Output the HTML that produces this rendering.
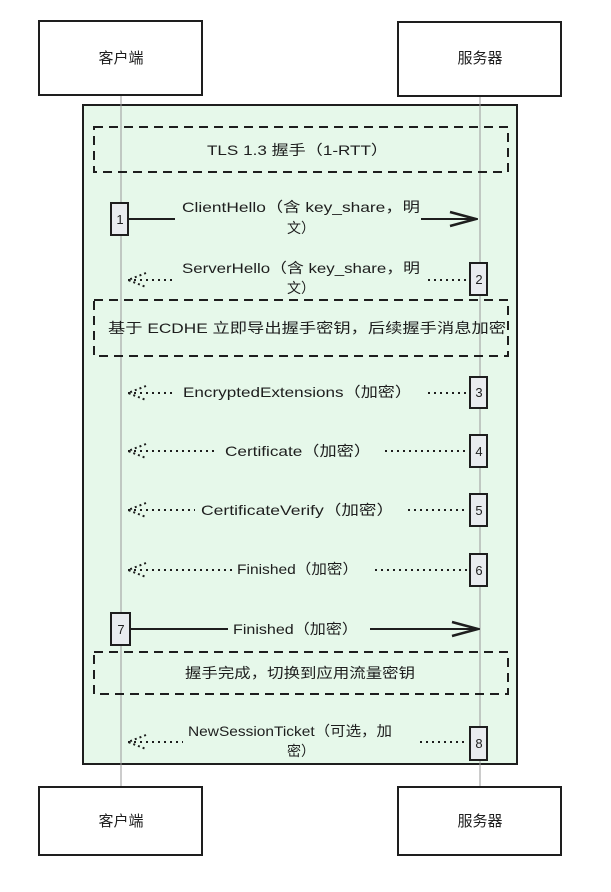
<!DOCTYPE html>
<html><head><meta charset="utf-8"><style>
body{margin:0;background:#fff}
svg text{font-family:"Liberation Sans","Noto Sans CJK SC",sans-serif;fill:#1e1e1e}
</style></head><body>
<svg width="611" height="887" viewBox="0 0 611 887" xmlns="http://www.w3.org/2000/svg">
<defs>
<marker id="ah" markerWidth="30" markerHeight="20" refX="28" refY="10" orient="auto" markerUnits="userSpaceOnUse">
<path d="M2 3 L28 10 L2 17" fill="none" stroke="#1e1e1e" stroke-width="2.5"/>
</marker>
<marker id="ad" markerWidth="24" markerHeight="20" refX="2" refY="10" orient="auto" markerUnits="userSpaceOnUse">
<path d="M20 3 L2 10 L20 17" fill="none" stroke="#1e1e1e" stroke-width="2" stroke-dasharray="2 3"/>
</marker>
</defs>
<rect x="83" y="105" width="434" height="659" fill="#e6f8ea" stroke="#1e1e1e" stroke-width="2"/>
<line x1="121" y1="95" x2="121" y2="787" stroke="#999" stroke-width="1"/>
<line x1="480" y1="95" x2="480" y2="787" stroke="#999" stroke-width="1"/>
<rect x="39" y="21" width="163" height="74" fill="#fff" stroke="#1e1e1e" stroke-width="2"/>
<rect x="398" y="22" width="163" height="74" fill="#fff" stroke="#1e1e1e" stroke-width="2"/>
<rect x="39" y="787" width="163" height="68" fill="#fff" stroke="#1e1e1e" stroke-width="2"/>
<rect x="398" y="787" width="163" height="68" fill="#fff" stroke="#1e1e1e" stroke-width="2"/>
<g font-size="15" text-anchor="middle">
<text x="121" y="63">客户端</text><text x="480" y="63">服务器</text>
<text x="121" y="826">客户端</text><text x="480" y="826">服务器</text>
</g>
<g fill="none" stroke="#1e1e1e" stroke-width="2" stroke-dasharray="9 6">
<rect x="94" y="127" width="414" height="45"/>
<rect x="94" y="300" width="414" height="56"/>
<rect x="94" y="652" width="414" height="42"/>
</g>
<g font-size="14" lengthAdjust="spacingAndGlyphs">
<text x="207" y="155" textLength="181" lengthAdjust="spacingAndGlyphs">TLS 1.3 握手（1-RTT）</text>
<text x="108" y="333" textLength="398" lengthAdjust="spacingAndGlyphs">基于 ECDHE 立即导出握手密钥，后续握手消息加密</text>
<text x="185" y="678" textLength="230" lengthAdjust="spacingAndGlyphs">握手完成，切换到应用流量密钥</text>
<text x="182" y="212" textLength="238" lengthAdjust="spacingAndGlyphs">ClientHello（含 key_share，明</text><text x="287" y="233">文）</text>
<text x="182" y="273" textLength="238" lengthAdjust="spacingAndGlyphs">ServerHello（含 key_share，明</text><text x="287" y="293">文）</text>
<text x="183" y="397" textLength="229" lengthAdjust="spacingAndGlyphs">EncryptedExtensions（加密）</text>
<text x="225" y="456" textLength="146" lengthAdjust="spacingAndGlyphs">Certificate（加密）</text>
<text x="201" y="515" textLength="193" lengthAdjust="spacingAndGlyphs">CertificateVerify（加密）</text>
<text x="237" y="574" textLength="121" lengthAdjust="spacingAndGlyphs">Finished（加密）</text>
<text x="233" y="634" textLength="125" lengthAdjust="spacingAndGlyphs">Finished（加密）</text>
<text x="188" y="736" textLength="204" lengthAdjust="spacingAndGlyphs">NewSessionTicket（可选，加</text><text x="287" y="756">密）</text>
</g>
<g stroke="#1e1e1e" stroke-width="2" fill="none">
<line x1="129" y1="219" x2="175" y2="219"/>
<line x1="421" y1="219" x2="476" y2="219" marker-end="url(#ah)"/>
<line x1="129" y1="629" x2="228" y2="629"/>
<line x1="370" y1="629" x2="478" y2="629" marker-end="url(#ah)"/>
</g>
<g stroke="#1e1e1e" stroke-width="2" fill="none" stroke-dasharray="2 4">
<line x1="428" y1="280" x2="467" y2="280"/><line x1="128" y1="280" x2="175" y2="280" marker-start="url(#ad)"/>
<line x1="428" y1="393" x2="467" y2="393"/><line x1="128" y1="393" x2="175" y2="393" marker-start="url(#ad)"/>
<line x1="385" y1="451" x2="467" y2="451"/><line x1="128" y1="451" x2="215" y2="451" marker-start="url(#ad)"/>
<line x1="408" y1="510" x2="467" y2="510"/><line x1="128" y1="510" x2="195" y2="510" marker-start="url(#ad)"/>
<line x1="375" y1="570" x2="467" y2="570"/><line x1="128" y1="570" x2="233" y2="570" marker-start="url(#ad)"/>
<line x1="420" y1="742" x2="467" y2="742"/><line x1="128" y1="742" x2="183" y2="742" marker-start="url(#ad)"/>
</g>
<g fill="#e9ecef" stroke="#1e1e1e" stroke-width="2">
<rect x="111" y="203" width="17" height="32"/>
<rect x="470" y="263" width="17" height="32"/>
<rect x="470" y="377" width="17" height="31"/>
<rect x="470" y="435" width="17" height="32"/>
<rect x="470" y="494" width="17" height="32"/>
<rect x="470" y="554" width="17" height="32"/>
<rect x="111" y="613" width="19" height="32"/>
<rect x="470" y="727" width="17" height="33"/>
</g>
<g font-size="13" text-anchor="middle">
<text x="120" y="224">1</text><text x="479" y="284">2</text><text x="479" y="397">3</text>
<text x="479" y="456">4</text><text x="479" y="515">5</text><text x="479" y="575">6</text>
<text x="121" y="634">7</text><text x="479" y="748">8</text>
</g>
</svg>
</body></html>
